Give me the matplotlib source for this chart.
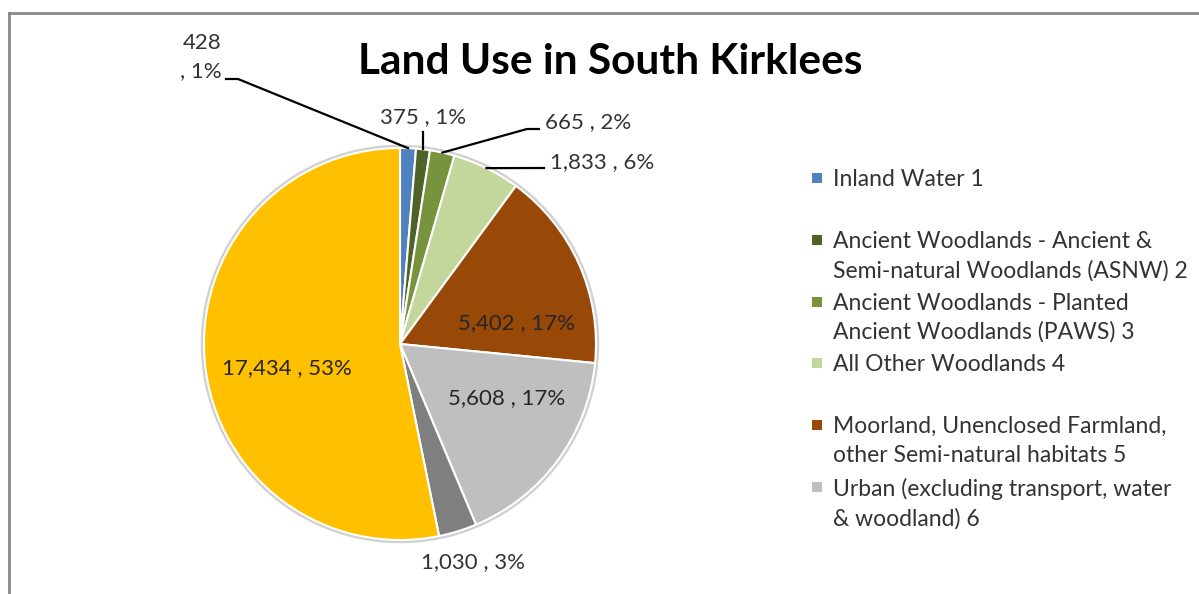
import numpy as np
import matplotlib.pyplot as plt
from matplotlib.patches import Rectangle, Circle
from matplotlib.lines import Line2D

# --- DATA ---
categories = [
    "Inland Water 1",
    "Ancient Woodlands - Ancient &\nSemi-natural Woodlands (ASNW) 2",
    "Ancient Woodlands - Planted\nAncient Woodlands (PAWS) 3",
    "All Other Woodlands 4",
    "Moorland, Unenclosed Farmland,\nother Semi-natural habitats 5",
    "Urban (excluding transport, water\n& woodland) 6",
    "Category 7",
    "Category 8",
]
areas = [428, 375, 665, 1833, 5402, 5608, 1030, 17434]
percents = [1, 1, 2, 6, 17, 17, 3, 53]  # as printed on the chart
colors = ["#4F81BD", "#4F6228", "#77933C", "#C3D69B",
          "#984807", "#BFBFBF", "#7F7F7F", "#FFC000"]
n_legend = 6  # the screenshot cuts the legend after six entries

W, H = 1199, 594
FONT = ["Lato", "DejaVu Sans"]
TXT = "#333333"


def py(y):
    # pixel row (from top) -> axes y
    return H - y


fig = plt.figure(figsize=(W / 100, H / 100), dpi=100)
ax = fig.add_axes([0, 0, 1, 1])

cx, cy, r = 400, 344, 196
ax.add_patch(Circle((cx, py(cy)), r + 1.5, facecolor="none",
                    edgecolor="#d0d0d0", lw=2.5, zorder=0))
wedges, _ = ax.pie(areas, colors=colors, startangle=90, counterclock=False,
                   center=(cx, py(cy)), radius=r, frame=True,
                   wedgeprops=dict(edgecolor="white", linewidth=1.5))
ax.set_xlim(0, W)
ax.set_ylim(0, H)
ax.set_aspect("auto")
ax.axis("off")

texts = ["{:,} , {}%".format(v, p) for v, p in zip(areas, percents)]
texts[0] = "{}\n, {}%".format(areas[0], percents[0])


def edge_point(w, frac=1.0):
    a = np.deg2rad((w.theta1 + w.theta2) / 2)
    return cx + frac * r * np.cos(a), py(cy) + frac * r * np.sin(a)


fs = 16
# 0: 428 (two lines, right aligned)
ax.text(222, py(57), texts[0], ha="right", va="center", fontsize=fs,
        family=FONT, color=TXT, linespacing=1.5)
ex, ey = edge_point(wedges[0])
ax.plot([226, 238, ex], [py(79), py(79), ey], color="black", lw=1.6)
# 1: 375
ax.text(423, py(117), texts[1], ha="center", va="center", fontsize=fs,
        family=FONT, color=TXT)
ex, ey = edge_point(wedges[1])
ax.plot([ex, ex], [py(132), ey], color="black", lw=1.6)
# 2: 665
ax.text(545, py(122), texts[2], ha="left", va="center", fontsize=fs,
        family=FONT, color=TXT)
ex, ey = edge_point(wedges[2])
ax.plot([539, 527, ex], [py(129), py(129), ey], color="black", lw=1.6)
# 3: 1,833
ax.text(550, py(162), texts[3], ha="left", va="center", fontsize=fs,
        family=FONT, color=TXT)
ex, ey = edge_point(wedges[3])
ax.plot([544, ex], [py(168), ey], color="black", lw=1.6)
# inside labels
ax.text(517, py(323), texts[4], ha="center", va="center", fontsize=fs,
        family=FONT, color="#262626")
ax.text(507, py(398), texts[5], ha="center", va="center", fontsize=fs,
        family=FONT, color="#262626")
ax.text(287, py(368), texts[7], ha="center", va="center", fontsize=fs,
        family=FONT, color="#262626")
# 6: 1,030 outside bottom
ax.text(473, py(562), texts[6], ha="center", va="center", fontsize=fs,
        family=FONT, color=TXT)

# title
ax.text(610, py(62), "Land Use in South Kirklees", ha="center", va="center",
        fontsize=30.5, fontweight="bold", family=FONT, color="black")

# legend (Excel style: handle on first line, two-line slots)
y0, step = 178, 61.8
for i in range(n_legend):
    y = y0 + i * step
    ax.add_patch(Rectangle((812, py(y) - 5), 10, 10, facecolor=colors[i],
                           edgecolor="none"))
    ax.text(833, py(y - 9), categories[i], ha="left", va="top",
            fontsize=16.5, family=FONT, color=TXT, linespacing=1.45)

# chart border (cropped at right and bottom)
fig.add_artist(Line2D([9 / W, 1], [1 - 13 / H, 1 - 13 / H], color="#888888",
                      lw=2, transform=fig.transFigure))
fig.add_artist(Line2D([9 / W, 9 / W], [0, 1 - 13 / H], color="#888888",
                      lw=2, transform=fig.transFigure))

fig.savefig("out.png", dpi=100)
